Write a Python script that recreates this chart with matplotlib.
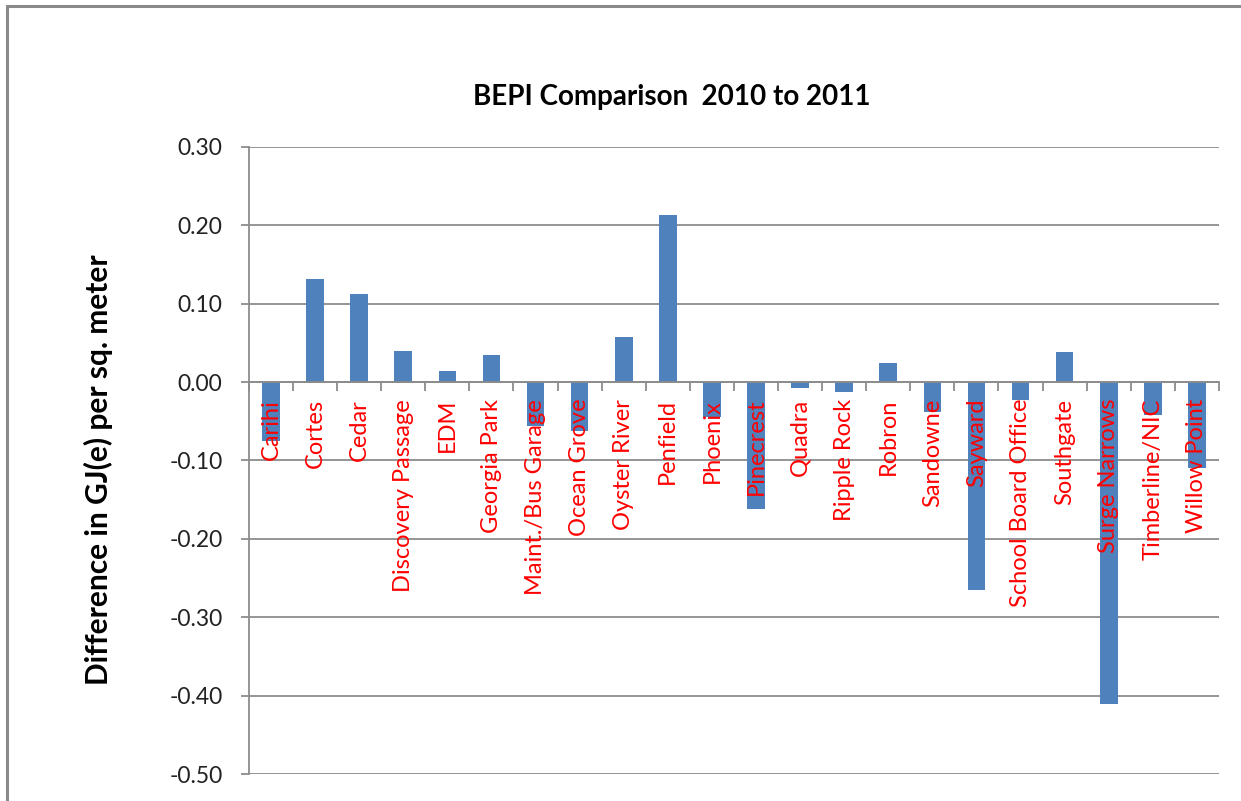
import numpy as np
import matplotlib
matplotlib.use('Agg')
import matplotlib.pyplot as plt
from matplotlib.patches import Rectangle
from matplotlib.ticker import FixedLocator, FormatStrFormatter

# Schools and the change in BEPI from 2010 to 2011
schools = ['Carihi', 'Cortes', 'Cedar', 'Discovery Passage', 'EDM', 'Georgia Park',
           'Maint./Bus Garage', 'Ocean Grove', 'Oyster River', 'Penfield', 'Phoenix',
           'Pinecrest', 'Quadra', 'Ripple Rock', 'Robron', 'Sandowne', 'Sayward',
           'School Board Office', 'Southgate', 'Surge Narrows', 'Timberline/NIC',
           'Willow Point']
diff = [-0.075, 0.131, 0.112, 0.040, 0.014, 0.035,
        -0.056, -0.063, 0.058, 0.213, -0.045,
        -0.162, -0.007, -0.012, 0.025, -0.038, -0.265,
        -0.023, 0.038, -0.411, -0.042,
        -0.110]
yticks = [0.30, 0.20, 0.10, 0.00, -0.10, -0.20, -0.30, -0.40, -0.50]

plt.rcParams['font.family'] = ['Lato', 'DejaVu Sans']
grey = '#8c8c8c'

fig = plt.figure(figsize=(12.41, 8.01), dpi=100)
ax = fig.add_axes([0.2006, 0.0337, 0.7816, 0.7828])

# spines first: moving the bottom spine resets the tick settings
ax.spines['top'].set_visible(False)
ax.spines['right'].set_visible(False)
ax.spines['left'].set_color(grey)
ax.spines['left'].set_linewidth(1.3)
ax.spines['bottom'].set_position(('data', 0))
ax.spines['bottom'].set_color(grey)
ax.spines['bottom'].set_linewidth(1.3)

x = np.arange(len(schools))
ax.bar(x, diff, width=0.4, color='#4F81BD', zorder=1)

# gridlines behind the bars, category labels stay on top
for t in yticks:
    ax.axhline(t, color=grey, lw=1.3, zorder=0)

ax.set_xlim(-0.5, len(schools) - 0.5)
ax.set_ylim(-0.50, 0.30)
ax.set_yticks(yticks)
ax.yaxis.set_major_formatter(FormatStrFormatter('%.2f'))
ax.tick_params(axis='y', direction='out', length=6, color=grey, width=1.3,
               labelsize=16.5, pad=13, labelcolor='#222222')

ax.set_xticks(x)
ax.set_xticklabels(schools, rotation=90, color='red', fontsize=17)
ax.xaxis.set_minor_locator(FixedLocator(np.arange(len(schools) + 1) - 0.5))
ax.tick_params(axis='x', which='major', length=0, pad=12)
ax.tick_params(axis='x', which='minor', direction='out', length=6.5, color=grey, width=1.3)

fig.text(0.5415, 0.879, 'BEPI Comparison  2010 to 2011', ha='center', va='center',
         fontsize=20, fontweight='bold')
fig.text(0.079, 0.413, 'Difference in GJ(e) per sq. meter', rotation=90,
         ha='center', va='center', fontsize=21.5, fontweight='bold')

# chart area border
fig.add_artist(Rectangle((0.0056, -0.1), 1.2, 1.0925, transform=fig.transFigure,
                         fill=False, edgecolor='#8a8a8a', lw=2.2))

plt.savefig('out.png', dpi=100)
